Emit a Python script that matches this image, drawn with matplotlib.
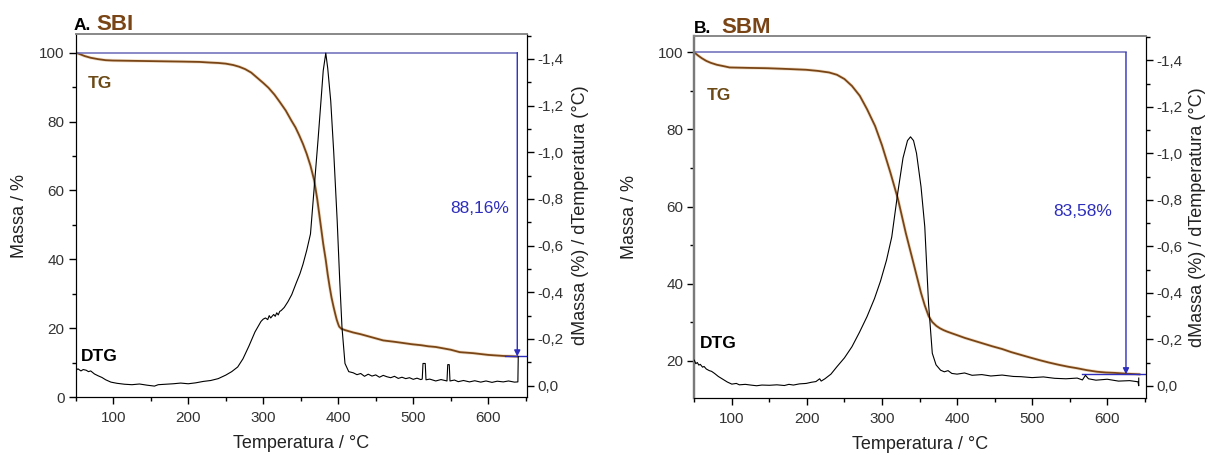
import matplotlib
matplotlib.use("Agg")
import matplotlib.pyplot as plt
from matplotlib.ticker import MultipleLocator, FuncFormatter

plt.rcParams["font.family"] = ["Liberation Sans", "DejaVu Sans"]

# ---------------- data ----------------
# SBI: thermogravimetric curve (mass %) and its derivative
sbi_tg_temp = [50, 55, 62, 70, 80, 90, 100, 130, 160, 190, 215, 230, 240, 250, 260, 268,
               276, 284, 292, 300, 307, 315, 322, 330, 337.5, 343, 348, 353, 358, 363,
               368, 372, 377, 380, 383.4, 386, 388.6, 391, 393.7, 396, 398, 400, 401.3,
               404, 409, 420, 430, 445, 460, 475, 485, 498, 511, 520, 530, 540, 550, 562,
               580, 600, 620, 638.7]
sbi_tg_mass = [100, 99.6, 99.0, 98.5, 98.1, 97.8, 97.7, 97.6, 97.5, 97.4, 97.3, 97.1, 97.0,
               96.8, 96.4, 95.9, 95.2, 94.2, 92.7, 91.2, 89.8, 87.8, 85.7, 83.2, 80.3,
               78.3, 76.0, 73.5, 70.6, 67.2, 62.9, 57.5, 49.4, 44.5, 39.8, 35.6, 32.0,
               29.0, 26.3, 24.2, 22.5, 21.2, 20.5, 19.9, 19.5, 18.8, 18.3, 17.4, 16.5,
               16.1, 15.8, 15.4, 15.1, 14.8, 14.6, 14.2, 13.8, 13.1, 12.8, 12.3, 12.0,
               11.84]

sbi_dtg_temp = [50, 53, 57, 60, 64, 67, 70, 75, 80, 85, 90, 97, 105, 115, 125, 135, 145,
                155, 160, 170, 180, 190, 200, 210, 220, 230, 240, 250, 258, 266, 273, 281,
                289, 297, 300, 303, 306, 308, 310, 312, 314, 316, 318, 320, 322, 324, 328,
                333, 338, 344, 349, 353, 358, 363, 368, 373, 377, 380, 383.4, 386, 390,
                394, 398.6, 402, 405, 409, 414, 420, 425, 430, 435, 440, 445, 450, 455,
                460, 465, 470, 475, 480, 485, 490, 495, 500, 505, 510, 512, 513, 516, 517,
                522, 530, 537, 545, 546, 548, 549, 555, 560, 567, 575, 582, 590, 597, 605,
                612, 620, 627, 635, 639.5, 640]
sbi_dtg_val = [-0.065, -0.072, -0.063, -0.069, -0.066, -0.060, -0.063, -0.050, -0.042,
               -0.035, -0.025, -0.015, -0.010, -0.006, -0.004, -0.007, -0.002, 0.002,
               -0.004, -0.006, -0.008, -0.011, -0.008, -0.012, -0.018, -0.022, -0.030,
               -0.045, -0.060, -0.080, -0.115, -0.170, -0.230, -0.275, -0.285, -0.290,
               -0.283, -0.300, -0.290, -0.298, -0.305, -0.297, -0.312, -0.303, -0.318,
               -0.322, -0.335, -0.360, -0.390, -0.440, -0.480, -0.520, -0.580, -0.650,
               -0.850, -1.050, -1.220, -1.350, -1.425, -1.360, -1.220, -1.000, -0.707,
               -0.450, -0.250, -0.095, -0.060, -0.055, -0.047, -0.052, -0.040, -0.049,
               -0.041, -0.046, -0.036, -0.044, -0.038, -0.034, -0.040, -0.031, -0.036,
               -0.030, -0.034, -0.027, -0.032, -0.026, -0.028, -0.095, -0.095, -0.025,
               -0.028, -0.020, -0.026, -0.020, -0.090, -0.090, -0.020, -0.024, -0.017,
               -0.022, -0.016, -0.021, -0.015, -0.020, -0.014, -0.019, -0.016, -0.020,
               -0.015, -0.016, -0.124]

# SBM: thermogravimetric curve (mass %) and its derivative
sbm_tg_temp = [50, 55, 60, 66, 72, 80, 90, 97, 120, 148, 175, 199, 215, 229.6, 240, 250,
               260, 270.4, 280, 290.8, 300, 311.2, 321.4, 331.6, 341.8, 352, 357, 362.2,
               367, 372.4, 377, 382, 387, 392.7, 400, 410, 420, 433.5, 447, 460, 472,
               484.5, 497, 510, 522, 535.4, 548, 560, 573, 586.4, 598, 610, 625, 643]
sbm_tg_mass = [100, 99.2, 98.5, 97.8, 97.3, 96.8, 96.4, 96.1, 96.0, 95.9, 95.7, 95.5,
               95.2, 94.8, 94.2, 93.1, 91.3, 88.75, 85.3, 80.9, 75.9, 68.8, 61.85, 53.2,
               45.4, 37.55, 34.3, 31.5, 30.0, 29.0, 28.4, 27.9, 27.5, 27.1, 26.6, 25.9,
               25.3, 24.5, 23.7, 23.0, 22.2, 21.5, 20.8, 20.1, 19.5, 18.9, 18.4, 18.0,
               17.5, 17.1, 16.9, 16.8, 16.6, 16.42]

sbm_dtg_temp = [50, 52, 54, 56, 58, 61, 63, 66, 70, 73, 77, 82, 88, 94, 100, 106, 110, 118,
                125, 133, 140, 150, 160, 170, 176, 182, 190, 199, 206, 212, 217, 219, 224,
                232, 240, 250, 260, 270, 280, 290, 298, 306, 313, 321, 328, 334, 338, 342,
                346, 352, 357, 362, 367, 372, 378, 383, 388, 393, 400, 410, 420, 433, 445,
                460, 475, 485, 500, 515, 530, 545, 560, 567, 571, 575, 585, 600, 615, 630,
                641, 642, 642]
sbm_dtg_val = [-0.110, -0.095, -0.100, -0.089, -0.092, -0.080, -0.083, -0.072, -0.065,
               -0.062, -0.053, -0.040, -0.028, -0.016, -0.007, -0.010, -0.004, -0.006,
               -0.003, 0.000, -0.003, -0.002, -0.004, -0.001, -0.006, -0.003, -0.008,
               -0.010, -0.015, -0.018, -0.030, -0.020, -0.030, -0.050, -0.082, -0.120,
               -0.168, -0.230, -0.297, -0.375, -0.450, -0.540, -0.640, -0.830, -0.980,
               -1.055, -1.071, -1.055, -1.000, -0.856, -0.684, -0.354, -0.140, -0.090,
               -0.067, -0.060, -0.065, -0.053, -0.050, -0.055, -0.045, -0.048, -0.042,
               -0.046, -0.040, -0.039, -0.035, -0.038, -0.032, -0.030, -0.033, -0.025,
               -0.045, -0.030, -0.024, -0.028, -0.020, -0.022, -0.017, 0.000, -0.033]

sbi_loss = 88.16
sbm_loss = 83.58
sbi_loss_temp = 638.7
sbm_loss_temp = 625.0

panel_letters = ["A.", "B."]
panel_names = ["SBI", "SBM"]
x_label = "Temperatura / °C"
y_label = "Massa / %"
y2_label = "dMassa (%) / dTemperatura (°C)"

# ---------------- style ----------------
W, H = 1208, 455
TG_COLOR = "#7a4516"
LABEL_BROWN = "#6b4a17"
BLUE = "#2e2ebc"
BLUE_LIGHT = "#6a6ab8"
TICK_TXT = "#333333"

fig = plt.figure(figsize=(W / 100, H / 100), dpi=100)


def px_rect(left, top, right, bottom):
    return [left / W, 1 - bottom / H, (right - left) / W, (bottom - top) / H]


def comma_fmt(v, _pos):
    v = round(v, 1)
    if v == 0:
        v = 0.0
    return f"{v:.1f}".replace(".", ",")


def draw_panel(rect, tg_t, tg_m, dtg_t, dtg_v, loss, loss_t, ylim, y2lim,
               ymajor_start, seg_start, text_pos, tg_lbl, dtg_lbl, left_spine_grey):
    ax = fig.add_axes(rect)
    ax2 = ax.twinx()

    ax.set_xlim(50, 651)
    ax.set_ylim(*ylim)
    ax2.set_ylim(*y2lim)

    # derivative curve
    ax2.plot(dtg_t, dtg_v, color="black", lw=0.8, zorder=3)
    # mass curve
    ax.plot(tg_t, tg_m, color="#d9a868", lw=2.4, alpha=0.35, zorder=2, solid_capstyle="round")
    ax.plot(tg_t, tg_m, color=TG_COLOR, lw=1.3, zorder=3)

    # mass-loss marker
    end = 100 - loss
    ax.plot([50, loss_t], [100, 100], color=BLUE_LIGHT, lw=1.1, zorder=4)
    ax.annotate("", xy=(loss_t, end), xytext=(loss_t, 100),
                arrowprops=dict(arrowstyle="-|>", color=BLUE, lw=1.0,
                                mutation_scale=9, shrinkA=0, shrinkB=0), zorder=5)
    ax.plot([seg_start, 651], [end, end], color=BLUE, lw=1.0, zorder=4)
    ax.text(text_pos[0], text_pos[1], f"{loss:.2f}%".replace(".", ","), color=BLUE,
            fontsize=12.5, ha="right", va="center")

    ax.text(tg_lbl[0], tg_lbl[1], "TG", color=LABEL_BROWN, fontsize=12.5,
            fontweight="bold", ha="left", va="center")
    ax.text(dtg_lbl[0], dtg_lbl[1], "DTG", color="black", fontsize=12.5,
            fontweight="bold", ha="left", va="center")

    # ticks
    ax.set_xticks(range(100, 601, 100))
    ax.xaxis.set_minor_locator(MultipleLocator(50))
    ax.set_yticks(range(ymajor_start, 101, 20))
    ax.yaxis.set_minor_locator(MultipleLocator(10))
    ax2.yaxis.set_major_locator(MultipleLocator(0.2))
    ax2.yaxis.set_minor_locator(MultipleLocator(0.1))
    ax2.yaxis.set_major_formatter(FuncFormatter(comma_fmt))

    for a in (ax, ax2):
        a.tick_params(which="major", direction="out", length=5, width=1,
                      labelsize=11, labelcolor=TICK_TXT, color="black")
        a.tick_params(which="minor", direction="out", length=3, width=1, color="black")
    ax.tick_params(axis="x", pad=5)
    ax.tick_params(axis="y", pad=3)
    ax2.tick_params(axis="y", pad=3)

    for a in (ax, ax2):
        a.spines["top"].set_color("#8a8a8a")
        a.spines["top"].set_linewidth(1.3)
        a.spines["bottom"].set_color("black")
        a.spines["right"].set_color("black")
        if left_spine_grey:
            a.spines["left"].set_color("#7a7a7a")
            a.spines["left"].set_linewidth(1.6)
        else:
            a.spines["left"].set_color("black")

    ax.set_xlabel(x_label, fontsize=13, color="#222222")
    ax.set_ylabel(y_label, fontsize=13, color="#222222")
    ax2.set_ylabel(y2_label, fontsize=13, color="#222222", rotation=90)
    return ax, ax2


axA, axA2 = draw_panel(px_rect(75.7, 34, 526.5, 397.3), sbi_tg_temp, sbi_tg_mass,
                       sbi_dtg_temp, sbi_dtg_val, sbi_loss, sbi_loss_temp,
                       (0, 105.4), (0.05, -1.507), 0, 622, (628, 54.9),
                       (66, 91.1), (56.8, 11.8), False)
axA.xaxis.set_label_coords(0.5, -0.105)
axA.yaxis.set_label_coords(-0.106, 0.5)
axA2.yaxis.set_label_coords(1.10, 0.5)

axB, axB2 = draw_panel(px_rect(694.3, 35.5, 1145.5, 398.3), sbm_tg_temp, sbm_tg_mass,
                       sbm_dtg_temp, sbm_dtg_val, sbm_loss, sbm_loss_temp,
                       (10.2, 104.4), (0.054, -1.507), 20, 567, (607, 58.8),
                       (66.5, 88.75), (57.4, 24.5), True)
axB.xaxis.set_label_coords(0.5, -0.105)
axB.yaxis.set_label_coords(-0.125, 0.5)
axB2.yaxis.set_label_coords(1.097, 0.5)

# panel titles
fig.text(74 / W, 1 - 30 / H, panel_letters[0], fontsize=12.5, fontweight="bold",
         color="black", ha="left", va="baseline")
fig.text(96.5 / W, 1 - 30 / H, panel_names[0], fontsize=16, fontweight="bold",
         color=TG_COLOR, ha="left", va="baseline")
fig.text(694 / W, 1 - 33 / H, panel_letters[1], fontsize=12.5, fontweight="bold",
         color="black", ha="left", va="baseline")
fig.text(721.5 / W, 1 - 33 / H, panel_names[1], fontsize=16, fontweight="bold",
         color=TG_COLOR, ha="left", va="baseline")

fig.savefig("out.png", dpi=100)
